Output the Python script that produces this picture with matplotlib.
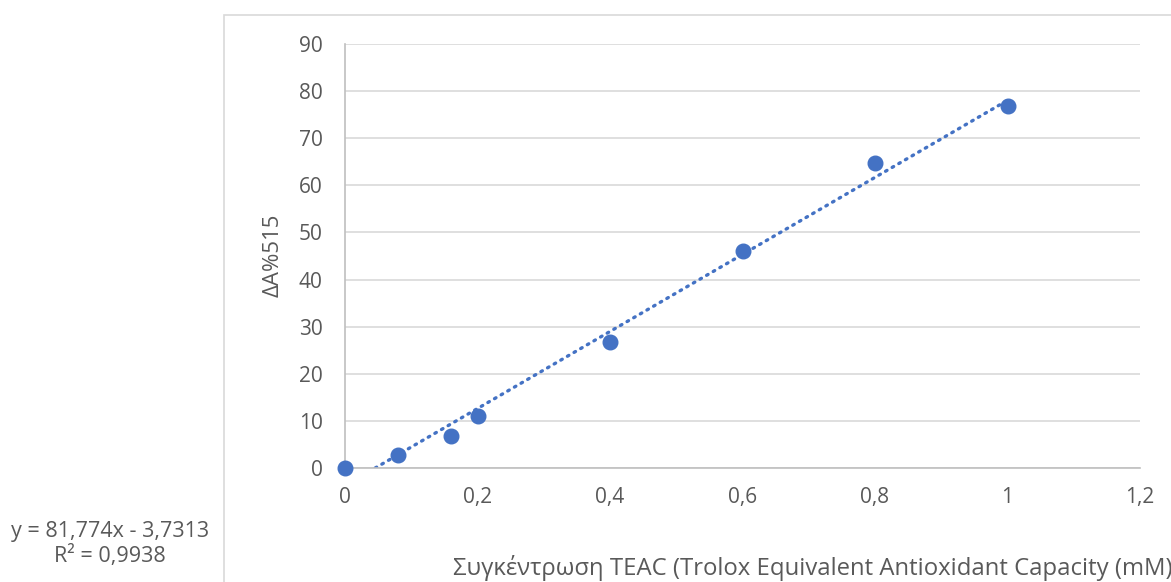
import matplotlib
matplotlib.use("Agg")
import matplotlib.pyplot as plt
from matplotlib.patches import Rectangle
import numpy as np

conc = [0, 0.08, 0.16, 0.2, 0.4, 0.6, 0.8, 1.0]
delta_a = [0, 2.8, 6.8, 11.1, 26.7, 46.1, 64.7, 76.8]
slope, intercept = 81.774, -3.7313
r2 = 0.9938
x_ticks = [0, 0.2, 0.4, 0.6, 0.8, 1.0, 1.2]
x_tick_labels = ["0", "0,2", "0,4", "0,6", "0,8", "1", "1,2"]
y_ticks = list(range(0, 100, 10))

plt.rcParams['font.family'] = ['Open Sans', 'DejaVu Sans']
W, H = 1171, 582
fig = plt.figure(figsize=(W / 100, H / 100), dpi=100)

# chart area border
fig.patches.append(Rectangle((224 / W, -0.1), 1.2, 1 - 15 / H + 0.1, transform=fig.transFigure,
                             fill=False, edgecolor='#d9d9d9', linewidth=1.2))

ax = fig.add_axes([345 / W, 1 - 468 / H, (1140 - 345) / W, (468 - 44) / H])
ax.set_xlim(0, 1.2)
ax.set_ylim(0, 90)
ax.set_yticks(y_ticks)
ax.set_xticks(x_ticks)
ax.set_xticklabels(x_tick_labels)
ax.grid(axis='y', color='#d9d9d9', linewidth=1.2)
ax.set_axisbelow(True)
for s in ['top', 'right']:
    ax.spines[s].set_visible(False)
for s in ['left', 'bottom']:
    ax.spines[s].set_color('#bfbfbf')
    ax.spines[s].set_linewidth(1.2)
ax.tick_params(length=0, labelsize=15, labelcolor='#595959')
ax.tick_params(axis='y', pad=16)
ax.tick_params(axis='x', pad=14)

# trendline (clipped at y = 0)
x0 = -intercept / slope
xt = np.array([x0, max(conc)])
ax.plot(xt, slope * xt + intercept, linestyle=(0, (0.5, 1.8)), dash_capstyle='round',
        color='#4472C4', linewidth=2.4, zorder=2)
ax.plot(conc, delta_a, 'o', color='#4472C4', markersize=10.5, clip_on=False, zorder=3)

fig.text(273 / W, 1 - 255 / H, "ΔΑ%515", rotation=90, ha='center', va='center',
         fontsize=16, color='#595959')
fig.text(453 / W, 1 - 568 / H, "Συγκέντρωση TEAC (Trolox Equivalent Antioxidant Capacity (mM)",
         ha='left', va='center', fontsize=17.2, color='#595959')
fig.text(110 / W, 1 - 531 / H, f"y = {slope:.3f}x - {abs(intercept):.4f}".replace('.', ','),
         ha='center', va='center', fontsize=15.5, color='#595959')
fig.text(110 / W, 1 - 556 / H, f"R² = {r2:.4f}".replace('.', ','),
         ha='center', va='center', fontsize=15.5, color='#595959')

fig.savefig("out.png", dpi=100)
